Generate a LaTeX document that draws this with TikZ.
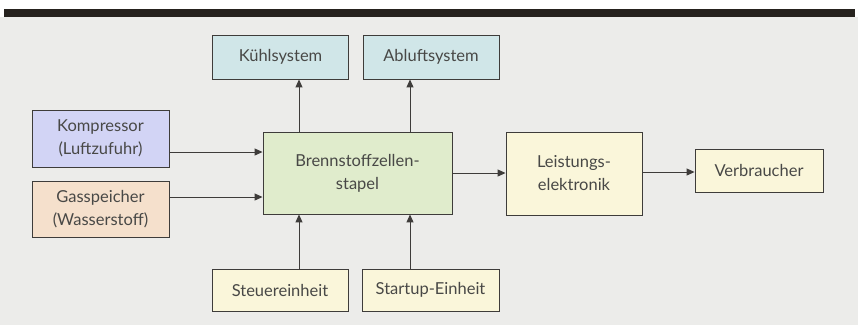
\documentclass[tikz,border=0pt]{standalone}
\usepackage{fontspec}
\setmainfont{Lato}
\usetikzlibrary{arrows.meta}
\definecolor{bg}{RGB}{236,236,234}
\definecolor{bar}{RGB}{38,34,30}
\definecolor{edge}{RGB}{62,60,58}
\definecolor{txt}{RGB}{72,72,70}
\definecolor{cyanfill}{RGB}{208,230,232}
\definecolor{lavfill}{RGB}{210,212,245}
\definecolor{peachfill}{RGB}{245,224,204}
\definecolor{greenfill}{RGB}{224,236,204}
\definecolor{creamfill}{RGB}{250,246,218}
\tikzset{
  blk/.style={draw=edge, line width=0.9pt, text=txt, align=center, inner sep=0pt,
    font=\fontsize{16.5}{23}\selectfont},
  conn/.style={draw=edge, line width=1pt, -{Triangle[length=8pt,width=7pt]}}
}
\begin{document}
\begin{tikzpicture}[x=1pt,y=-1pt]
\useasboundingbox (0,0) rectangle (858,325);
\fill[white] (0,0) rectangle (858,325);
\fill[bg] (0,17) rectangle (858,325);
\fill[bar] (4,9) rectangle (855,17);
% nodes
\node[blk, fill=cyanfill, minimum width=136pt, minimum height=44pt] (kuehl) at (280.5,57) {Kühlsystem};
\node[blk, fill=cyanfill, minimum width=136pt, minimum height=44pt] (abluft) at (431,57) {Abluftsystem};
\node[blk, fill=lavfill, minimum width=137pt, minimum height=57pt] (komp) at (100.5,138.5) {Kompressor\\(Luftzufuhr)};
\node[blk, fill=peachfill, minimum width=137pt, minimum height=56pt] (gas) at (100.5,209) {Gasspeicher\\(Wasserstoff)};
\node[blk, fill=greenfill, minimum width=189pt, minimum height=82pt] (brenn) at (357.5,173) {Brennstoffzellen-\\stapel};
\node[blk, fill=creamfill, minimum width=136pt, minimum height=83pt] (leist) at (574,173.5) {Leistungs-\\elektronik};
\node[blk, fill=creamfill, minimum width=128pt, minimum height=43pt] (verb) at (759,170.5) {Verbraucher};
\node[blk, fill=creamfill, minimum width=136pt, minimum height=42pt] (steuer) at (280,290) {Steuereinheit};
\node[blk, fill=creamfill, minimum width=137pt, minimum height=42pt] (start) at (430.5,290) {Startup-Einheit};
% connectors
\draw[conn] (brenn.north -| 299,0) -- (kuehl.south -| 299,0);
\draw[conn] (brenn.north -| 410,0) -- (abluft.south -| 410,0);
\draw[conn] (steuer.north -| 299,0) -- (brenn.south -| 299,0);
\draw[conn] (start.north -| 410,0) -- (brenn.south -| 410,0);
\draw[conn] (komp.east |- 0,152) -- (brenn.west |- 0,152);
\draw[conn] (gas.east |- 0,197) -- (brenn.west |- 0,197);
\draw[conn] (brenn.east |- 0,173) -- (leist.west |- 0,173);
\draw[conn] (leist.east |- 0,172) -- (verb.west |- 0,172);
\end{tikzpicture}
\end{document}
